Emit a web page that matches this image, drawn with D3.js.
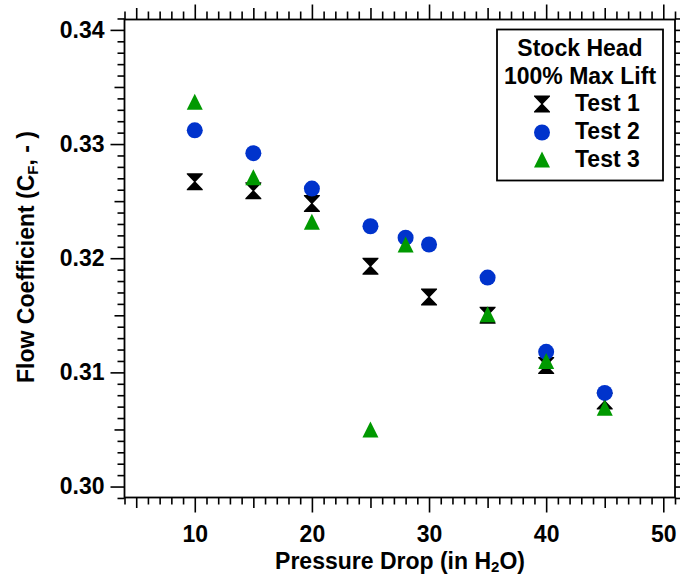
<!DOCTYPE html>
<html>
<head>
<meta charset="utf-8">
<script src="https://cdn.jsdelivr.net/npm/d3@7"></script>
<style>
  html, body { margin: 0; padding: 0; background: #fff; }
  svg { display: block; font-family: "Liberation Sans", Arial, sans-serif; font-weight: bold; }
</style>
</head>
<body>
<svg id="chart" width="680" height="577"></svg>
<script>
// ---- data ----
const test1X = [10, 15, 20, 25, 30, 35, 40, 45];
const test1Y = [0.3267, 0.3259, 0.3248, 0.3193, 0.3166, 0.3150, 0.3106, 0.3075];
const test2X = [10, 15, 20, 25, 28, 30, 35, 40, 45];
const test2Y = [0.3312, 0.3292, 0.3261, 0.3228, 0.3218, 0.3212, 0.3183, 0.3118, 0.3082];
const test3X = [10, 15, 20, 25, 28, 35, 40, 45];
const test3Y = [0.3337, 0.3271, 0.3232, 0.3050, 0.3212, 0.3151, 0.3110, 0.3069];
const xTickLabels = [10, 20, 30, 40, 50];
const yTickLabels = ["0.30", "0.31", "0.32", "0.33", "0.34"];
const legendTitle = ["Stock Head", "100% Max Lift"];
const seriesNames = ["Test 1", "Test 2", "Test 3"];
const seriesColors = ["#000000", "#0033cc", "#009900"];

(function () {
// ---- layout ----
const L = 124.5, R = 675, T = 19.5, B = 497.5;
const svg = d3.select("#chart");
const FONT = "'Liberation Sans', Arial, sans-serif";
const FS = 23;

const x = d3.scaleLinear().domain([4, 51]).range([L, R]);
const y = d3.scaleLinear().domain([0.29904, 0.34091]).range([B, T]);

const xMinor = d3.range(4, 52, 1).filter(v => v % 5 !== 0);
const xMed = d3.range(5, 51, 10);
const xMaj = xTickLabels;
const yMinor = d3.range(299, 342).filter(v => v % 5 !== 0).map(v => v / 1000);
const yMed = [0.305, 0.315, 0.325, 0.335];
const yMaj = yTickLabels.map(Number);

function drawAxis(gen, scale, transform, vals, size, fmt, pad) {
  const a = gen(scale).tickValues(vals).tickSize(size);
  if (fmt) a.tickFormat(fmt).tickPadding(pad); else a.tickFormat("");
  const g = svg.append("g").attr("transform", transform).call(a);
  g.select(".domain").remove();
  g.selectAll(".tick line").attr("stroke", "#000").attr("stroke-width", 1.6);
  g.selectAll("text").attr("font-size", FS).attr("font-weight", "bold").attr("fill", "#000")
    .attr("font-family", FONT);
  return g;
}
// bottom
drawAxis(d3.axisBottom, x, `translate(0,${B})`, xMinor, 7);
drawAxis(d3.axisBottom, x, `translate(0,${B})`, xMed, 10.5);
drawAxis(d3.axisBottom, x, `translate(0,${B})`, xMaj, 15, d3.format("d"), 13.5);
// top
drawAxis(d3.axisTop, x, `translate(0,${T})`, xMinor, 8);
drawAxis(d3.axisTop, x, `translate(0,${T})`, xMed, 11.5);
drawAxis(d3.axisTop, x, `translate(0,${T})`, xMaj, 15);
// left
drawAxis(d3.axisLeft, y, `translate(${L},0)`, yMinor, 7);
drawAxis(d3.axisLeft, y, `translate(${L},0)`, yMed, 10);
drawAxis(d3.axisLeft, y, `translate(${L},0)`, yMaj, 14, d3.format(".2f"), 6);
// right
drawAxis(d3.axisRight, y, `translate(${R},0)`, yMinor, 7);
drawAxis(d3.axisRight, y, `translate(${R},0)`, yMed, 10);
drawAxis(d3.axisRight, y, `translate(${R},0)`, yMaj, 14);

// frame
svg.append("rect").attr("x", L).attr("y", T).attr("width", R - L).attr("height", B - T)
  .attr("fill", "none").attr("stroke", "#000").attr("stroke-width", 1.8);

// ---- markers ----
const hourglass = "M-8,-8.5 L8,-8.5 L8,-7.5 L0.8,0 L8,7.5 L8,8.5 L-8,8.5 L-8,7.5 L-0.8,0 L-8,-7.5 Z";
const triangle = "M0,-8 L8,8 L-8,8 Z";
const series = [
  { xs: test1X, ys: test1Y, path: hourglass, color: seriesColors[0] },
  { xs: test2X, ys: test2Y, path: null, color: seriesColors[1] },
  { xs: test3X, ys: test3Y, path: triangle, color: seriesColors[2] }
];
series.forEach(s => {
  const pts = s.xs.map((v, i) => [v, s.ys[i]]);
  const g = svg.append("g");
  if (s.path) {
    g.selectAll("path").data(pts).join("path")
      .attr("d", s.path)
      .attr("transform", d => `translate(${x(d[0])},${y(d[1])})`)
      .attr("fill", s.color);
  } else {
    g.selectAll("circle").data(pts).join("circle")
      .attr("cx", d => x(d[0])).attr("cy", d => y(d[1])).attr("r", 8)
      .attr("fill", s.color);
  }
});

// ---- legend ----
const lg = svg.append("g").attr("font-family", FONT).attr("font-weight", "bold");
lg.append("rect").attr("x", 497).attr("y", 29.5).attr("width", 166).attr("height", 151)
  .attr("fill", "#fff").attr("stroke", "#000").attr("stroke-width", 1.8);
legendTitle.forEach((t, i) => {
  lg.append("text").attr("x", 580).attr("y", 56 + i * 27.5).attr("text-anchor", "middle")
    .attr("font-size", FS).text(t);
});
const markerY = [104, 132.5, 159.5];
seriesNames.forEach((t, i) => {
  const cy = markerY[i];
  const s = series[i];
  if (s.path) lg.append("path").attr("d", s.path).attr("transform", `translate(542,${cy})`).attr("fill", s.color);
  else lg.append("circle").attr("cx", 542).attr("cy", cy).attr("r", 8).attr("fill", s.color);
  lg.append("text").attr("x", 575).attr("y", 111 + i * 28).attr("font-size", FS).text(t);
});

// ---- axis titles ----
const xt = svg.append("text").attr("x", 400).attr("y", 569).attr("text-anchor", "middle")
  .attr("font-size", FS).attr("font-family", FONT).attr("font-weight", "bold");
xt.append("tspan").text("Pressure Drop (in H");
xt.append("tspan").attr("font-size", 15).attr("dy", 3).text("2");
xt.append("tspan").attr("dy", -3).text("O)");

const yt = svg.append("text").attr("transform", "translate(34,257) rotate(-90)").attr("text-anchor", "middle")
  .attr("font-size", FS).attr("font-family", FONT).attr("font-weight", "bold");
yt.append("tspan").text("Flow Coefficient (C");
yt.append("tspan").attr("font-size", 15).attr("dy", 4).text("F");
yt.append("tspan").attr("dy", -4).text(", - )");
})();
</script>
</body>
</html>
